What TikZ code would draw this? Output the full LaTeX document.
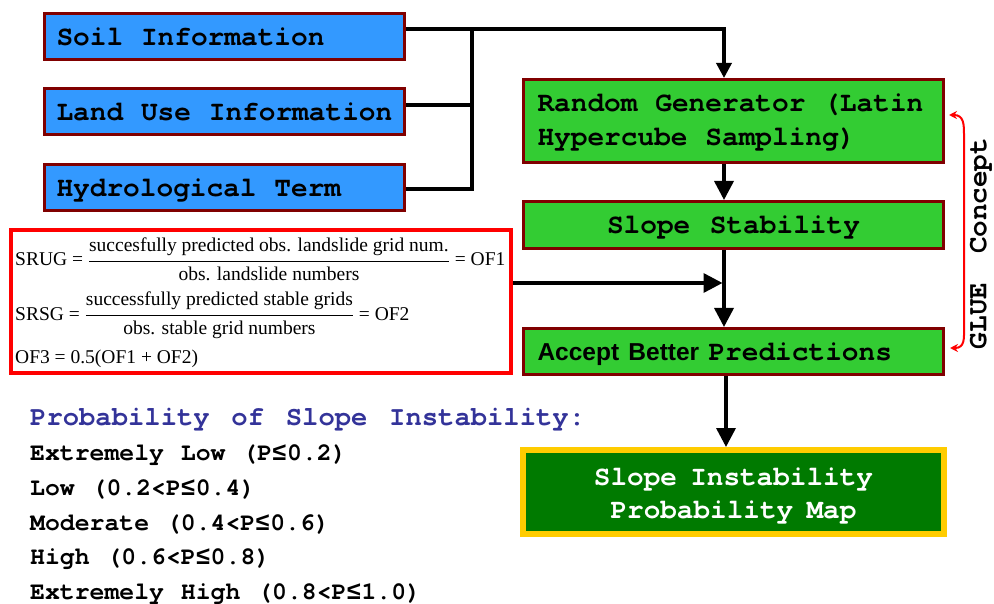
\documentclass[tikz,border=0pt]{standalone}
\usepackage{fontspec}
\setmainfont{Liberation Serif}
\setsansfont{Liberation Sans}
\setmonofont{TeX Gyre Cursor}
\newfontfamily\libmono{Liberation Mono}
\usetikzlibrary{arrows.meta,calc}
\definecolor{boxred}{RGB}{128,0,0}
\definecolor{skyb}{RGB}{51,153,255}
\definecolor{grn}{RGB}{51,204,51}
\definecolor{dkgrn}{RGB}{0,122,0}
\definecolor{gold}{RGB}{255,204,0}
\definecolor{headblue}{RGB}{51,51,153}
\newcommand\monof{\fontsize{27.8}{34}\selectfont\ttfamily\bfseries}
\newcommand\mapf{\fontsize{27.7}{33}\selectfont\ttfamily\bfseries}
\newcommand\gluef{\fontsize{27.6}{33}\selectfont\ttfamily\bfseries\fontdimen2\font=1.05em}
\newcommand\headf{\fontsize{27.2}{32}\selectfont\ttfamily\bfseries\fontdimen2\font=0.8em}
\newcommand\listf{\fontsize{24.8}{30}\selectfont\ttfamily\bfseries\fontdimen2\font=0.68em}
\newcommand\eqf{\fontsize{19.5}{24}\selectfont}
\newcommand\leqs{{\libmono\bfseries ≤}}
\tikzset{
  wsp/.style={execute at begin node={\spaceskip=#1\relax\xspaceskip=#1\relax}},
  inbox/.style={draw=boxred, line width=3pt, fill=skyb, minimum width=360pt, minimum height=46pt,
    text width=336pt, inner xsep=12pt, inner ysep=0pt, align=left, font=\monof, text depth=0pt,
    wsp=0.64em},
  gbox/.style={draw=boxred, line width=3pt, fill=grn, minimum width=420pt, inner xsep=14pt,
    inner ysep=0pt, text width=392pt, font=\monof},
  conn/.style={line width=3.5pt, black},
  arr/.style={conn, -{Triangle[length=19pt,width=19pt]}},
  glue/.style={red, line width=2pt, {Stealth[length=8pt,width=8pt]}-{Stealth[length=8pt,width=8pt]}},
  eqline/.style={anchor=base west, inner sep=0pt, font=\eqf},
  listline/.style={anchor=mid west, inner sep=0pt, font=\listf},
}
\begin{document}
\begin{tikzpicture}[x=1pt,y=-1pt]
\useasboundingbox (0,0) rectangle (994,604);

% input boxes
\node[inbox] (soil)  at (224.5,36.5) {Soil Information};
\node[inbox] (land)  at (224.5,112)  {Land Use Information};
\node[inbox] (hydro) at (224.5,187.5) {Hydrological Term};

% process boxes
\node[gbox, minimum height=83pt, align=left, text height=20pt, text depth=38pt, wsp=0.64em] (rg) at (733.5,121)
  {Random Generator (Latin\\Hypercube Sampling)};
\node[gbox, minimum height=47pt, align=center, text depth=0pt, wsp=0.7em] (slope) at (733.5,225) {Slope Stability};
\node[gbox, minimum height=46pt, align=left, text depth=0pt] (acc) at (733.5,351.5)
  {{\sffamily\bfseries\fontsize{24.5}{30}\selectfont Accept Better }Predictions};
\node[draw=gold, fill=dkgrn, line width=6pt, minimum width=421pt, minimum height=84pt,
  text=white, align=center, font=\mapf, text height=60pt, text depth=8pt, inner sep=0pt,
  wsp=0.48em] (map) at (733.5,492)
  {Slope Instability\\Probability Map};

% formula box
\node[draw=red, line width=4pt, minimum width=500pt, minimum height=143pt, inner sep=0pt] (formula) at (261,301.5) {};
\node[eqline] (eq1) at (15,266)
  {$\displaystyle \mbox{SRUG} \mbox{ = } \frac{\mbox{succesfully predicted obs. landslide grid num.}}{\mbox{obs. landslide numbers}} \mbox{ = } \mbox{OF1}$};
\node[eqline] (eq2) at (15,320)
  {$\displaystyle \mbox{SRSG} \mbox{ = } \frac{\mbox{successfully predicted stable grids}}{\mbox{obs. stable grid numbers}} \mbox{ = } \mbox{OF2}$};
\node[eqline] (eq3) at (15,363) {OF3 = 0.5(OF1 + OF2)};

% probability legend
\node[anchor=mid west, inner sep=0pt, font=\headf, text=headblue]
  (head) at (30,423) {Probability of Slope Instability:};
\node[listline] (l1) at (30,458.5) {Extremely Low (P\leqs0.2)};
\node[listline] (l2) at (30,493.5) {Low (0.2<P\leqs0.4)};
\node[listline] (l3) at (30,528.5) {Moderate (0.4<P\leqs0.6)};
\node[listline] (l4) at (30,562.5) {High (0.6<P\leqs0.8)};
\node[listline] (l5) at (30,597.5) {Extremely High (0.8<P\leqs1.0)};

% GLUE concept
\node[font=\gluef, rotate=90, inner sep=0pt] (gluetxt) at (981,243.5) {GLUE Concept};

% connectors
\coordinate (bustop) at (472,29);
\draw[conn] ([yshift=-1.5pt]hydro.east) -| (bustop);
\draw[conn] ([yshift=7pt]land.east) -- ([yshift=7pt]land.east -| bustop);
\draw[conn, -{Triangle[length=15pt,width=15pt]}] ([yshift=7.5pt]soil.east) -| ([xshift=-9.5pt]rg.north);
\draw[arr] ([xshift=-9.5pt]rg.south) -- ([xshift=-9.5pt]slope.north);
\draw[arr] ([xshift=-9.5pt]slope.south) -- ([xshift=-9.5pt]acc.north);
\path ([xshift=-9.5pt]slope.south) coordinate (sx);
\path ([yshift=18.5pt]formula.east) coordinate (fx);
\draw[arr, shorten >=1.5pt] (fx) -- (sx |- fx);
\draw[arr] ([xshift=-7.5pt]acc.south) -- ([xshift=-7.5pt]map.north);

% GLUE loop
\coordinate (gt) at ([xshift=4pt,yshift=6pt]rg.east);
\coordinate (gb) at ([xshift=5pt,yshift=3.5pt]acc.east);
\draw[glue] (gt) .. controls +(15,0) and +(0,-10) .. ($(gt)+(15,20)$)
  -- ($(gb)+(14,-20)$) .. controls +(0,10) and +(15,0) .. (gb);
\end{tikzpicture}
\end{document}
